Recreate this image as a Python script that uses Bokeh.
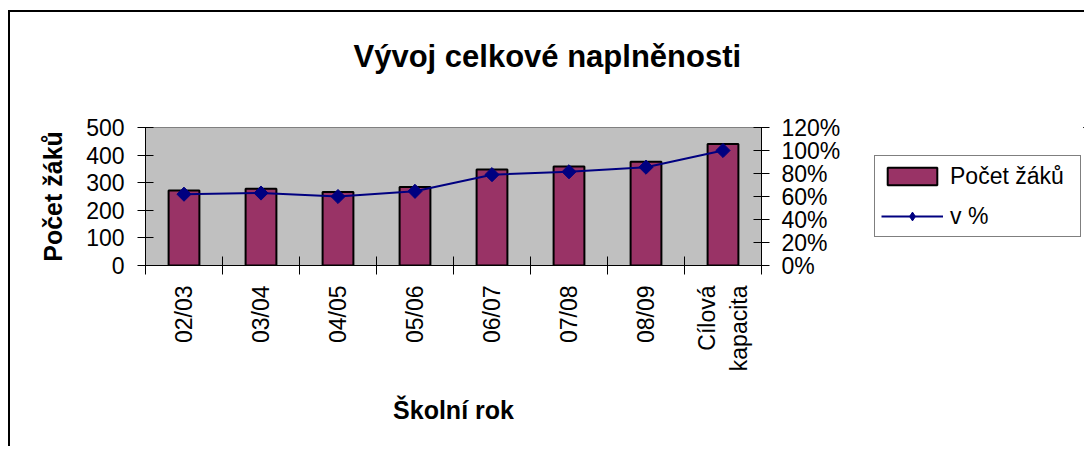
import numpy as np
from bokeh.plotting import figure
from bokeh.layouts import row
from bokeh.models import (Range1d, LinearAxis, FixedTicker, NumeralTickFormatter,
                          Legend, LegendItem, Title)
from bokeh.embed import file_html
from bokeh.resources import INLINE

# ---- data ----
categories = ["02/03", "03/04", "04/05", "05/06", "06/07", "07/08", "08/09", "Cílová\nkapacita"]
pocet_zaku = [272, 278, 266, 284, 348, 359, 376, 440]
v_procentech = [0.62, 0.63, 0.60, 0.645, 0.79, 0.815, 0.855, 1.00]
left_ticks = [0, 100, 200, 300, 400, 500]
right_ticks = [0, 0.2, 0.4, 0.6, 0.8, 1.0, 1.2]

FONT = "Liberation Sans"
BAR_FILL = "#993366"
LINE_COL = "#000080"
n = len(categories)
xs = [i + 0.5 for i in range(n)]
bounds = list(range(n + 1))

p = figure(width=851, height=436, output_backend="svg", toolbar_location=None, title=None,
           x_range=Range1d(0, n), y_range=Range1d(0, 500),
           min_border_left=135, min_border_right=100, min_border_top=115, min_border_bottom=183,
           background_fill_color="#C0C0C0", border_fill_color="white",
           outline_line_color="#808080", outline_line_width=1)
p.styles = {"border-top": "2px solid black", "border-left": "2px solid black"}
p.extra_y_ranges = {"pct": Range1d(0, 1.2)}
p.grid.grid_line_color = None

bars = p.vbar(x=xs, top=pocet_zaku, bottom=0, width=0.4,
              fill_color=BAR_FILL, line_color="black", line_width=2)
ln = p.line(xs, v_procentech, y_range_name="pct", line_color=LINE_COL, line_width=2)
sc = p.scatter(xs, v_procentech, y_range_name="pct", marker="square", angle=np.pi / 4,
               size=10, fill_color=LINE_COL, line_color=LINE_COL)

# x axis
xa = p.xaxis[0]
xa.ticker = FixedTicker(ticks=xs, minor_ticks=bounds)
xa.major_label_overrides = {x: c for x, c in zip(xs, categories)}
xa.major_tick_in = 0
xa.major_tick_out = 0
xa.minor_tick_in = 9
xa.minor_tick_out = 9
xa.minor_tick_line_color = "black"
xa.major_label_orientation = np.pi / 2
xa.major_label_standoff = 11
xa.axis_label = "Školní rok"
xa.axis_label_standoff = 22

# left y axis
ya = p.yaxis[0]
ya.ticker = FixedTicker(ticks=left_ticks)
ya.major_tick_in = 8
ya.major_tick_out = 8
ya.minor_tick_line_color = None
ya.major_label_standoff = 13
ya.axis_label = "Počet žáků"
ya.axis_label_standoff = 16

# right y axis
ra = LinearAxis(y_range_name="pct", ticker=FixedTicker(ticks=right_ticks),
                formatter=NumeralTickFormatter(format="0%"))
ra.major_tick_in = 8
ra.major_tick_out = 8
ra.minor_tick_line_color = None
ra.major_label_standoff = 12
p.add_layout(ra, "right")

for ax in (xa, ya, ra):
    ax.axis_line_color = "black"
    ax.major_tick_line_color = "black"
    ax.major_label_text_font = FONT
    ax.major_label_text_font_size = "23px"
    ax.major_label_text_color = "black"
    ax.axis_label_text_font = FONT
    ax.axis_label_text_font_size = "25px"
    ax.axis_label_text_font_style = "bold"
    ax.axis_label_text_color = "black"

# title (spacer panel next to the frame, then the real title above it)
spacer = Title(text=" ", text_font_size="1px", standoff=49)
p.add_layout(spacer, "above")
title = Title(text="Vývoj celkové naplněnosti", align="left", offset=208,
              vertical_align="top", standoff=0, text_font=FONT, text_font_size="31px",
              text_font_style="bold", text_color="black")
p.add_layout(title, "above")

# legend panel (separate small figure to the right of the chart; its frame is
# aligned with the main frame by the row layout). Key glyphs reuse the data but
# lie outside this panel's ranges, so only the legend is visible.
lg = figure(width=225, height=436, output_backend="svg", toolbar_location=None, title=None,
            x_range=Range1d(-2, -1), y_range=Range1d(-2, -1),
            x_axis_location=None, y_axis_location=None,
            min_border_left=0, min_border_right=0, min_border_top=0, min_border_bottom=0,
            background_fill_color="white", border_fill_color="white", outline_line_color=None)
lg.styles = {"border-top": "2px solid black"}
lg.grid.grid_line_color = None
bar_key = lg.vbar(x=xs, top=pocet_zaku, bottom=0, width=0.4,
                  fill_color=BAR_FILL, line_color="black", line_width=2)
line_key = lg.line(x=xs, y=v_procentech, line_color=LINE_COL, line_width=2)
mark_key = lg.scatter(x=xs, y=v_procentech, marker="diamond", size=16,
                      fill_color=LINE_COL, line_color=LINE_COL)

legend = Legend(items=[LegendItem(label="Počet žáků", renderers=[bar_key]),
                       LegendItem(label="v %", renderers=[line_key, mark_key])],
                location=(15, 28), margin=0, padding=6, spacing=12,
                glyph_width=62, glyph_height=22, label_height=28, label_width=124,
                label_standoff=7, label_text_font=FONT, label_text_font_size="23px",
                label_text_color="black", border_line_color="black", border_line_width=1.5,
                background_fill_color="white", background_fill_alpha=1)
lg.add_layout(legend, "center")

layout = row(p, lg, spacing=0)
layout.margin = (10, 0, 0, 8)

open("out.html", "w").write(file_html(layout, INLINE))
